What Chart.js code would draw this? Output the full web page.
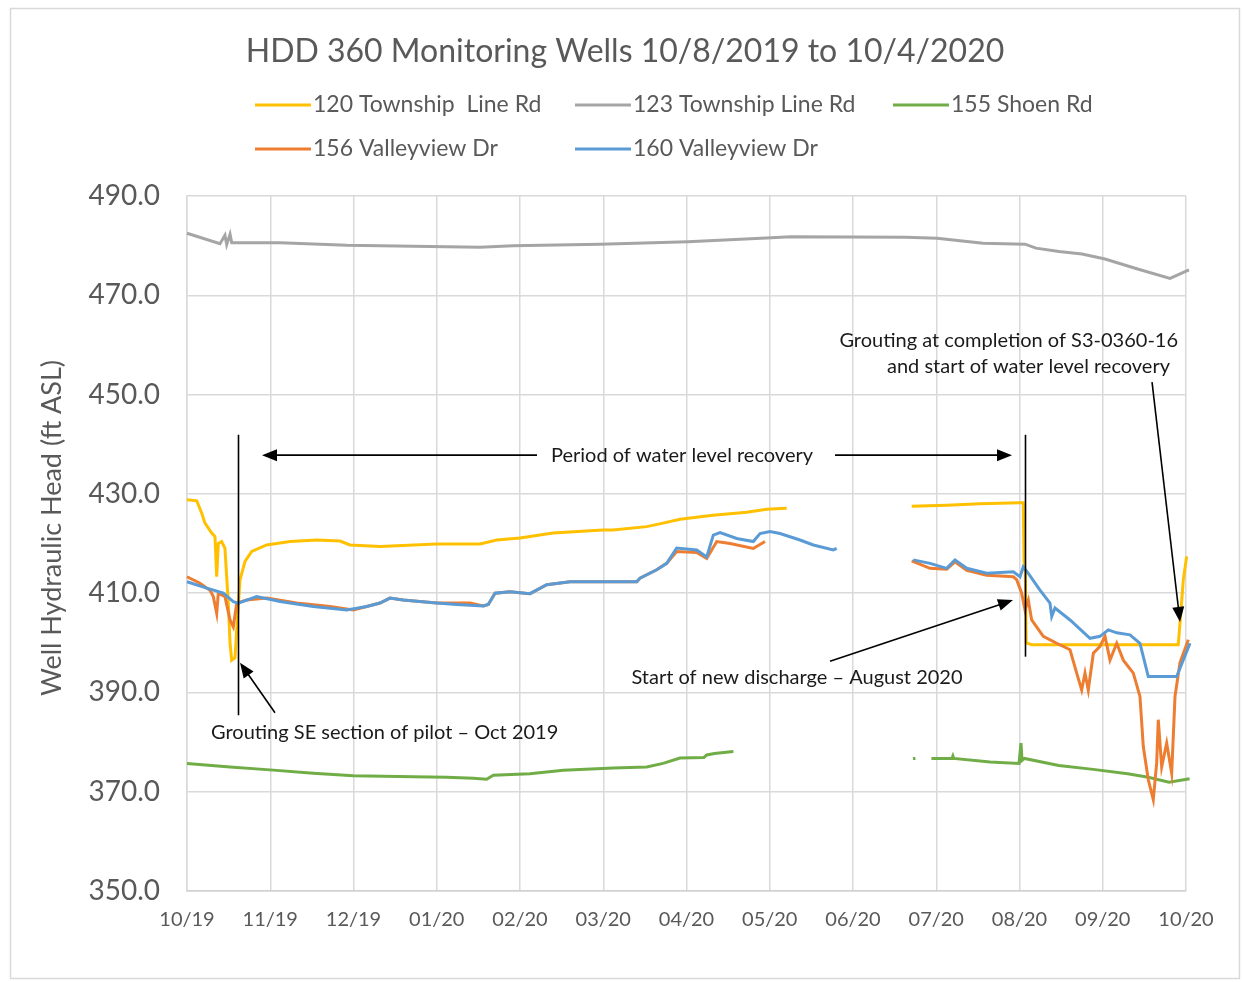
<!DOCTYPE html>
<html>
<head>
<meta charset="utf-8">
<script src="https://cdn.jsdelivr.net/npm/chart.js@4/dist/chart.umd.min.js"></script>
<style>
html,body{margin:0;padding:0;background:#fff}
#wrap{width:1243px;height:982px;position:relative}
</style>
</head>
<body>
<div id="wrap"><canvas id="c" width="1243" height="982"></canvas></div>
<script>
// x values are months since 10/8/2019 (0 = 10/19 tick, 12 = 10/20 tick)
const monthLabels = ['10/19','11/19','12/19','01/20','02/20','03/20','04/20','05/20','06/20','07/20','08/20','09/20','10/20'];

// 120 Township Line Rd
const t120Months = [0,0.117,0.177,0.216,0.297,0.336,0.357,0.376,0.417,0.456,0.496,0.517,0.537,0.577,0.597,0.637,0.697,0.777,0.957,1.237,1.558,1.838,1.958,2.318,2.999,3.52,3.72,4.0,4.396,4.997,5.117,5.522,5.718,5.922,6.318,6.723,6.963,7.204,
  7.9,
  8.705,9.125,9.526,10.006,10.045,10.055,10.07,10.08,10.146,11.907,11.928,11.968,12.008,12.028];
const t120Head = [428.8,428.6,426.1,424.1,422.1,421.4,413.3,420.0,420.4,419.0,408.0,400.0,396.5,397.0,402.6,412.7,416.4,418.4,419.7,420.4,420.7,420.5,419.7,419.4,419.9,419.9,420.7,421.1,422.1,422.7,422.7,423.4,424.1,424.9,425.7,426.3,426.9,427.1,
  null,
  427.5,427.7,428.0,428.2,428.2,416.5,414.0,400.0,399.6,399.6,404.0,412.7,417.4,415.3];

// 123 Township Line Rd
const t123Months = [0,0.396,0.456,0.477,0.517,0.537,1.117,1.918,3.12,3.52,3.916,4.961,6.018,6.895,7.255,8.637,9.009,9.285,9.562,10.066,10.198,10.474,10.751,11.027,11.399,11.808,12.036];
const t123Head = [482.5,480.4,482.1,480.2,482.3,480.6,480.6,480.1,479.8,479.7,480.0,480.3,480.8,481.5,481.8,481.7,481.5,481.0,480.5,480.3,479.5,478.8,478.3,477.3,475.4,473.4,475.1];

// 155 Shoen Rd
const s155Months = [0,0.517,0.997,1.517,1.998,2.718,3.12,3.439,3.6,3.679,4.12,4.52,5.121,5.522,5.718,5.922,6.21,6.243,6.335,6.563,
  7.5,
  8.72,8.75,
  8.85,
  8.942,9.189,9.2,9.21,9.646,9.994,10.018,10.03,10.059,10.472,10.885,11.3,11.547,11.796,12.043];
const s155Head = [375.7,375.0,374.4,373.7,373.2,373.0,372.9,372.7,372.5,373.3,373.6,374.3,374.8,375.0,375.7,376.8,376.9,377.4,377.7,378.1,
  null,
  376.7,376.7,
  null,
  376.7,376.7,377.2,376.7,376.0,375.7,379.8,376.3,376.7,375.3,374.5,373.6,372.9,371.9,372.6];

// 156 Valleyview Dr
const v156Months = [0,0.156,0.276,0.316,0.357,0.376,0.456,0.517,0.556,0.597,0.717,0.957,1.318,1.718,1.998,2.318,2.438,2.595,2.999,3.399,3.559,3.619,3.7,3.88,4.12,4.321,4.601,4.997,5.402,5.441,5.642,5.762,5.882,6.123,6.243,6.363,6.523,6.802,6.943,
  7.8,
  8.705,8.925,9.125,9.225,9.366,9.606,9.926,9.966,10.026,10.066,10.106,10.146,10.286,10.447,10.607,10.687,10.747,10.787,10.826,10.887,10.967,11.027,11.087,11.168,11.247,11.367,11.447,11.487,11.547,11.607,11.648,11.667,11.708,11.768,11.828,11.868,11.928,12.028];
const v156Head = [413.3,412.0,410.6,409.3,405.9,410.0,409.3,404.6,403.2,408.0,408.6,409.0,408.0,407.3,406.6,408.0,409.0,408.6,408.0,408.0,407.4,407.7,410.0,410.3,409.9,411.7,412.3,412.3,412.3,413.0,414.7,416.0,418.4,418.2,417.0,420.4,420.0,419.0,420.4,
  null,
  416.5,415.0,414.8,416.3,414.6,413.6,413.3,412.7,410.0,406.6,408.6,404.6,401.3,399.9,398.6,393.9,390.5,393.9,390.5,397.9,399.3,401.3,396.5,399.9,396.5,393.9,389.2,379.1,372.4,368.4,375.8,384.5,375.0,379.8,373.7,389.2,396.0,400.6];

// 160 Valleyview Dr
const v160Months = [0,0.237,0.436,0.556,0.616,0.837,1.117,1.517,1.918,2.159,2.318,2.438,2.595,2.999,3.24,3.559,3.619,3.7,3.88,4.12,4.321,4.601,4.997,5.402,5.441,5.642,5.762,5.882,6.123,6.243,6.322,6.403,6.603,6.802,6.883,7.003,7.123,7.363,7.523,7.763,7.804,
  8.3,
  8.724,8.925,9.125,9.225,9.366,9.606,9.926,10.006,10.045,10.106,10.246,10.366,10.387,10.426,10.607,10.847,10.967,11.067,11.168,11.327,11.447,11.547,11.888,12.048];
const v160Head = [412.3,411.0,410.0,408.3,408.0,409.3,408.3,407.3,406.6,407.3,408.0,409.0,408.6,408.0,407.7,407.4,407.7,410.0,410.3,409.9,411.7,412.3,412.3,412.3,413.0,414.7,416.0,419.1,418.7,417.3,421.7,422.2,421.0,420.4,422.0,422.4,422.0,420.7,419.7,418.7,419.0,
  null,
  416.7,416.0,415.0,416.7,415.0,414.0,414.3,413.3,415.3,414.0,410.6,408.0,405.3,407.0,404.6,400.9,401.3,402.6,402.0,401.6,399.9,393.2,393.2,399.9];

const seriesNames = ['120 Township  Line Rd','123 Township Line Rd','155 Shoen Rd','156 Valleyview Dr','160 Valleyview Dr'];
const seriesColors = ['#FFC000','#A5A5A5','#70AD47','#ED7D31','#5B9BD5'];

// callouts, in chart units (month, ft)
const notes = [
  {text:'Period of water level recovery', x:5.946, y:437.8, align:'center'},
  {text:'Grouting SE section of pilot \u2013 Oct 2019', x:0.288, y:381.9, align:'left'},
  {text:'Start of new discharge \u2013 August 2020', x:7.327, y:392.9, align:'center'},
  {text:'Grouting at completion of S3-0360-16', x:11.904, y:460.8, align:'right'},
  {text:'and start of water level recovery', x:11.808, y:455.6, align:'right'}
];
const arrows = [[4.204,437.8,0.901,437.8],[7.784,437.8,9.91,437.8],[1.057,385.9,0.637,396.0],[7.724,396.3,9.922,408.6],[11.592,452.5,11.928,404.2]];
const markers = [[0.613,441.9,385.4],[10.066,441.9,397.2]];

const FONT = 'Lato, "Open Sans", sans-serif';
const GREY = '#595959';

function pts(xs, ys){ return xs.map((x,i)=>({x:x, y:ys[i]})); }

const seriesData = [pts(t120Months,t120Head), pts(t123Months,t123Head), pts(s155Months,s155Head), pts(v156Months,v156Head), pts(v160Months,v160Head)];

function arrow(ctx, x1, y1, x2, y2){
  const a = Math.atan2(y2-y1, x2-x1), hl = 15, hw = 6;
  ctx.beginPath(); ctx.moveTo(x1,y1); ctx.lineTo(x2 - Math.cos(a)*hl*0.8, y2 - Math.sin(a)*hl*0.8); ctx.stroke();
  ctx.beginPath(); ctx.moveTo(x2,y2);
  ctx.lineTo(x2 - Math.cos(a)*hl + Math.sin(a)*hw, y2 - Math.sin(a)*hl - Math.cos(a)*hw);
  ctx.lineTo(x2 - Math.cos(a)*hl - Math.sin(a)*hw, y2 - Math.sin(a)*hl + Math.cos(a)*hw);
  ctx.closePath(); ctx.fill();
}

const decor = {
  id:'decor',
  beforeDraw(chart){
    const ctx = chart.ctx;
    ctx.save();
    ctx.fillStyle = '#fff'; ctx.fillRect(0,0,chart.width,chart.height);
    ctx.strokeStyle = '#d9d9d9'; ctx.lineWidth = 1.5; ctx.strokeRect(10.5,8.5,1229,970);
    // title
    ctx.fillStyle = GREY; ctx.font = '32px '+FONT; ctx.textAlign = 'center'; ctx.textBaseline = 'middle';
    ctx.fillText('HDD 360 Monitoring Wells 10/8/2019 to 10/4/2020', 625, 52);
    // legend, Excel-style grid
    const cols = [255, 575, 893], rows = [105, 149];
    ctx.font = '23px '+FONT; ctx.textAlign = 'left';
    seriesNames.forEach((n,i)=>{
      const x = cols[i%3], y = rows[Math.floor(i/3)];
      ctx.strokeStyle = seriesColors[i]; ctx.lineWidth = 3;
      ctx.beginPath(); ctx.moveTo(x,y); ctx.lineTo(x+56,y); ctx.stroke();
      ctx.fillStyle = GREY; ctx.fillText(n, x+58, y);
    });
    // y axis title
    ctx.save(); ctx.translate(52, 528); ctx.rotate(-Math.PI/2);
    ctx.font = '27px '+FONT; ctx.textAlign = 'center'; ctx.fillText('Well Hydraulic Head (ft ASL)', 0, 0);
    ctx.restore();
    ctx.restore();
  },
  afterDatasetsDraw(chart){
    const ctx = chart.ctx, xs = chart.scales.x, ys = chart.scales.y;
    ctx.save();
    ctx.strokeStyle = '#000'; ctx.fillStyle = '#000'; ctx.lineWidth = 1.6;
    markers.forEach(m=>{
      const px = Math.round(xs.getPixelForValue(m[0]))+0.5;
      ctx.beginPath(); ctx.moveTo(px, ys.getPixelForValue(m[1])); ctx.lineTo(px, ys.getPixelForValue(m[2])); ctx.stroke();
    });
    arrows.forEach(a=> arrow(ctx, xs.getPixelForValue(a[0]), ys.getPixelForValue(a[1]), xs.getPixelForValue(a[2]), ys.getPixelForValue(a[3])));
    ctx.font = '20px '+FONT; ctx.textBaseline = 'middle'; ctx.fillStyle = '#1a1a1a';
    notes.forEach(n=>{
      ctx.textAlign = n.align;
      ctx.fillText(n.text, xs.getPixelForValue(n.x), ys.getPixelForValue(n.y));
    });
    ctx.restore();
  }
};

new Chart(document.getElementById('c'), {
  type:'line',
  data:{
    datasets: seriesData.map((d,i)=>({
      label: seriesNames[i], data: d,
      borderColor: seriesColors[i], backgroundColor: seriesColors[i],
      borderWidth: 3, pointRadius: 0, tension: 0, spanGaps: false,
      order: 5 - i, clip: 8
    }))
  },
  options:{
    responsive:false, animation:false, devicePixelRatio:1,
    layout:{padding:{left:10, top:196, right:57, bottom:20}},
    plugins:{legend:{display:false}, title:{display:false}, tooltip:{enabled:false}},
    scales:{
      x:{
        type:'linear', min:0, max:12,
        afterFit(s){ s.height = 71; },
        ticks:{stepSize:1, autoSkip:false, maxRotation:0, padding:17, color:GREY, font:{family:FONT, size:20},
          callback:(v)=> monthLabels[v] ?? ''},
        grid:{color:'#d9d9d9', lineWidth:1.5, drawTicks:false},
        border:{color:'#d0d0d0', width:1.5}
      },
      y:{
        min:350, max:490,
        afterFit(s){ s.width = 177; },
        ticks:{stepSize:20, padding:27, color:GREY, font:{family:FONT, size:28},
          callback:(v)=> v.toFixed(1)},
        grid:{color:'#d9d9d9', lineWidth:1.5, drawTicks:false},
        border:{color:'#d9d9d9', width:1.5}
      }
    }
  },
  plugins:[decor]
});
</script>
</body>
</html>
